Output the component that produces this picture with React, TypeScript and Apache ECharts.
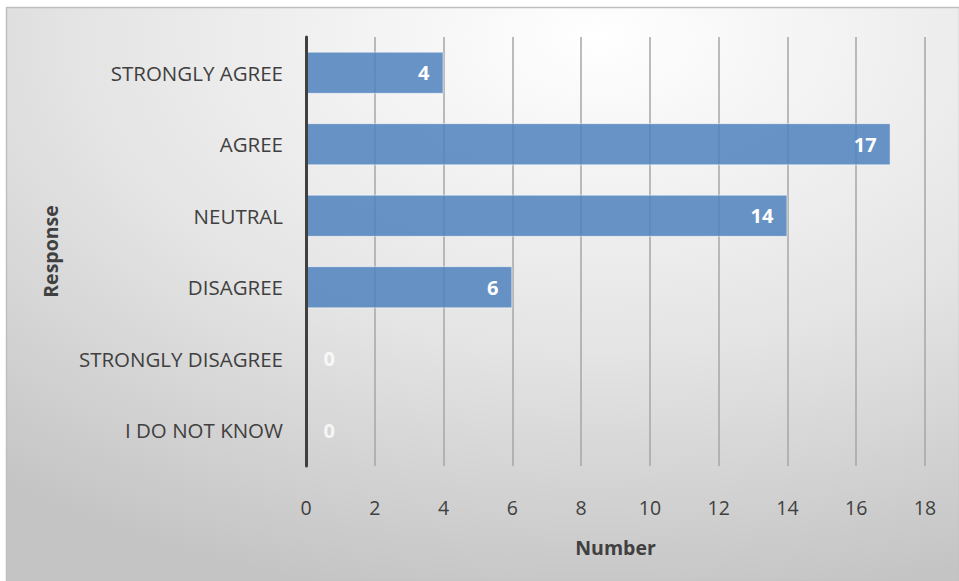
import React, { useEffect, useRef } from "react";
import * as echarts from "echarts";

const categories = ["STRONGLY AGREE", "AGREE", "NEUTRAL", "DISAGREE", "STRONGLY DISAGREE", "I DO NOT KNOW"];
const values = [4, 17, 14, 6, 0, 0];
const xTicks = { min: 0, max: 18, interval: 2 };
const FONT = "'Open Sans', 'Liberation Sans', sans-serif";

export default function App() {
  const ref = useRef<HTMLDivElement>(null);
  useEffect(() => {
    if (!ref.current) return;
    const chart = echarts.init(ref.current, undefined, { renderer: "svg" });
    chart.setOption({
      animation: false,
      textStyle: { fontFamily: FONT },
      graphic: [
        {
          type: "rect",
          z: -10,
          silent: true,
          shape: { x: 6.5, y: 7.5, width: 953, height: 574 },
          style: {
            fill: new echarts.graphic.RadialGradient(0.62, 0.05, 1.0, [
              { offset: 0, color: "#ffffff" },
              { offset: 0.55, color: "#e4e4e4" },
              { offset: 1, color: "#c4c4c4" },
            ]),
            stroke: "#bfbfbf",
            lineWidth: 1.5,
          },
        },
      ],
      grid: { left: 306, right: 34, top: 37, bottom: 115, containLabel: false },
      xAxis: {
        type: "value",
        min: xTicks.min,
        max: xTicks.max,
        interval: xTicks.interval,
        name: "Number",
        nameLocation: "middle",
        nameGap: 71,
        nameTextStyle: { fontSize: 19.5, fontWeight: "bold", color: "#404040", fontFamily: FONT },
        axisLine: { show: false },
        axisTick: { show: false },
        axisLabel: { fontSize: 19.5, color: "#404040", margin: 31, fontFamily: FONT },
        splitLine: { show: true, lineStyle: { color: "#a6a6a6", width: 1.5 } },
      },
      yAxis: {
        type: "category",
        data: categories,
        inverse: true,
        z: 5,
        name: "Response",
        nameLocation: "middle",
        nameGap: 246,
        nameRotate: 90,
        nameTextStyle: { fontSize: 19.5, fontWeight: "bold", color: "#404040", fontFamily: FONT },
        axisLine: { show: true, lineStyle: { color: "#404040", width: 3 } },
        axisTick: { show: false },
        axisLabel: { fontSize: 20.5, color: "#404040", margin: 23, fontFamily: FONT },
        splitLine: { show: false },
      },
      series: [
        {
          type: "bar",
          data: values.map((v) =>
            v === 0
              ? { value: v, label: { position: "right", distance: 17, color: "rgba(255,255,255,0.8)" } }
              : v
          ),
          barCategoryGap: "41%",
          itemStyle: {
            color: "rgba(79,129,189,0.85)",
            borderColor: "rgba(255,255,255,0.5)",
            borderWidth: 1,
          },
          label: {
            show: true,
            position: "insideRight",
            distance: 14,
            color: "#ffffff",
            fontSize: 20,
            fontWeight: "bold",
            fontFamily: FONT,
          },
        },
      ],
    });
    return () => chart.dispose();
  }, []);
  return (
    <div
      ref={ref}
      style={{ position: "absolute", left: 0, top: 0, width: 959, height: 581 }}
    />
  );
}
